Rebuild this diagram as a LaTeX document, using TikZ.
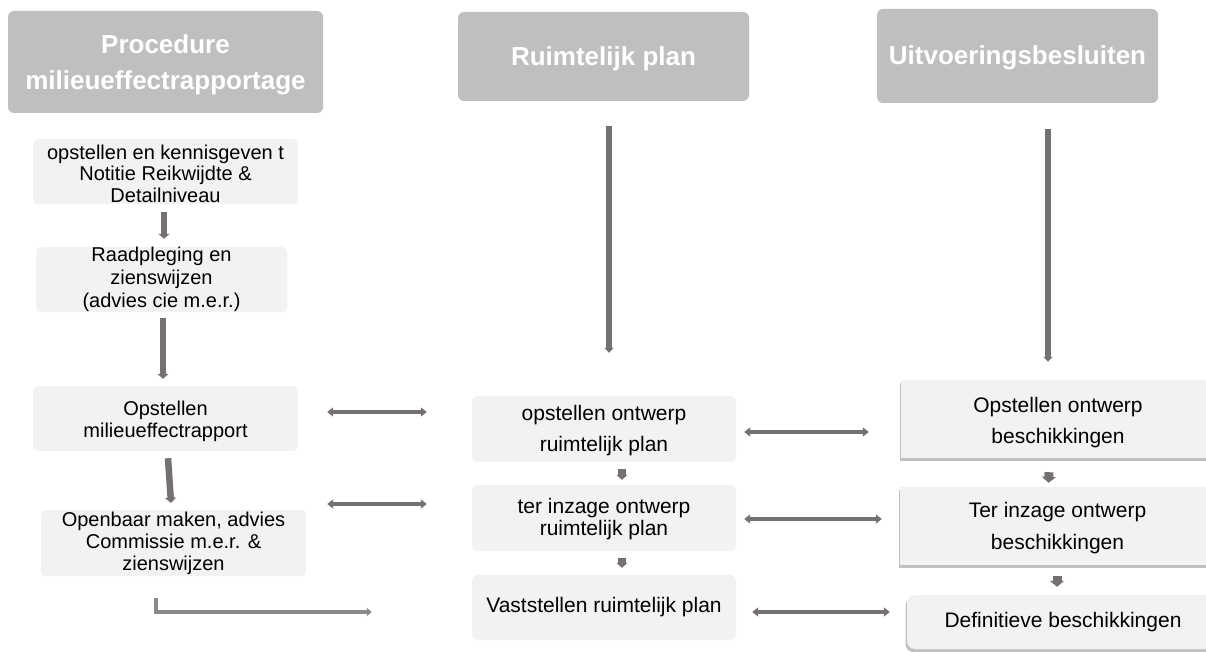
\documentclass[tikz,border=0pt]{standalone}
\usepackage{fontspec}
\setmainfont{Liberation Sans}
\usetikzlibrary{arrows.meta,shadows}
\definecolor{hdrgrey}{HTML}{BFBFBF}
\definecolor{boxgrey}{HTML}{F2F2F2}
\definecolor{arrgrey}{HTML}{767171}
\definecolor{elbgrey}{HTML}{8A8A8A}
\newcommand{\myraise}[1]{\rule{0pt}{#1}}
\tikzset{
  header/.style={fill=hdrgrey, rounded corners=6pt, inner sep=0pt, text=white,
    font=\fontsize{26}{36}\selectfont\bfseries, align=center},
  leftbox/.style={fill=boxgrey, rounded corners=5pt, inner sep=0pt, align=center,
    font=\fontsize{20}{21.5}\selectfont},
  midbox/.style={fill=boxgrey, rounded corners=6pt, inner sep=0pt, align=center},
  rightbox/.style={fill=boxgrey, inner sep=0pt, align=center,
    font=\fontsize{21}{31}\selectfont,
    drop shadow={shadow xshift=-1.5pt, shadow yshift=-3pt, fill=black!45, opacity=0.55}},
  longarr/.style={draw=arrgrey, line width=5.5pt, -{Triangle[width=9pt,length=5pt]}},
  thickarr/.style={draw=arrgrey, line width=6.5pt, -{Triangle[width=11pt,length=5pt]}},
  midarr/.style={draw=arrgrey, line width=7.5pt, -{Triangle[width=11pt,length=5pt]}},
  rightarr/.style={draw=arrgrey, line width=9pt, -{Triangle[width=14pt,length=6pt]}},
  dblarr/.style={draw=arrgrey, line width=4.5pt,
    {Triangle[width=9pt,length=6pt]}-{Triangle[width=9pt,length=6pt]}},
  elbarr/.style={draw=elbgrey, line width=4pt, -{Triangle[width=8pt,length=5pt]}}
}
\begin{document}
\begin{tikzpicture}[x=1pt,y=-1pt]
\useasboundingbox (0,0) rectangle (1206,652);
% headers
\node[header, minimum width=315pt, minimum height=102pt] (H1) at (165.5,62) {\myraise{24pt}Procedure\\milieueffectrapportage};
\node[header, minimum width=291pt, minimum height=89pt] (H2) at (603.5,56.5) {\myraise{22.5pt}Ruimtelijk plan};
\node[header, minimum width=281pt, minimum height=94pt] (H3) at (1017.5,56) {\myraise{23pt}Uitvoeringsbesluiten};
% left column
\node[leftbox, minimum width=265pt, minimum height=65pt] (B1) at (165.5,171.5) {\myraise{18.5pt}opstellen en kennisgeven t\\Notitie Reikwijdte \&\\Detailniveau};
\node[leftbox, minimum width=251pt, minimum height=65pt, font=\fontsize{20}{23}\selectfont] (B2) at (161.5,279.5) {Raadpleging en\\zienswijzen\\(advies cie m.e.r.)};
\node[leftbox, minimum width=265pt, minimum height=65pt, font=\fontsize{20}{22}\selectfont] (B3) at (165.5,418.5) {\myraise{19.6pt}Opstellen\\milieueffectrapport};
\node[leftbox, minimum width=265pt, minimum height=66pt, font=\fontsize{20}{22}\selectfont] (B4) at (173.5,543) {Openbaar maken, advies\\Commissie m.e.r. \&\\zienswijzen};
% middle column
\node[midbox, minimum width=264pt, minimum height=66pt, font=\fontsize{21}{31}\selectfont] (M1) at (604,429) {\myraise{17.5pt}opstellen ontwerp\\ruimtelijk plan};
\node[midbox, minimum width=264pt, minimum height=66pt, font=\fontsize{21}{22}\selectfont] (M2) at (604,518) {\myraise{18pt}ter inzage ontwerp\\ruimtelijk plan};
\node[midbox, minimum width=264pt, minimum height=65pt, font=\fontsize{21}{22}\selectfont] (M3) at (604,607.5) {Vaststellen ruimtelijk plan};
% right column
\node[rightbox, minimum width=314pt, minimum height=78pt] (R1) at (1058,419) {\myraise{21.5pt}Opstellen ontwerp\\beschikkingen};
\node[rightbox, minimum width=315pt, minimum height=78pt, font=\fontsize{21}{32}\selectfont] (R2) at (1057.5,526) {\myraise{18.5pt}Ter inzage ontwerp\\beschikkingen};
\node[rightbox, rounded corners=8pt, minimum width=312pt, minimum height=54pt] (R3) at (1063,622) {Definitieve beschikkingen};
% long vertical arrows from headers
\draw[longarr] ([xshift=5.5pt,yshift=-25pt]H2.south) -- ([xshift=5pt,yshift=43pt]M1.north);
\draw[longarr] ([xshift=30.5pt,yshift=-26pt]H3.south) -- ([xshift=-10pt,yshift=18pt]R1.north);
% left column arrows
\draw[thickarr] ([xshift=-1.5pt,yshift=-8pt]B1.south) -- ([xshift=2.5pt,yshift=8pt]B2.north);
\draw[thickarr] ([xshift=1.5pt,yshift=-6pt]B2.south) -- ([xshift=-2.5pt,yshift=7pt]B3.north);
\draw[thickarr] ([xshift=2.5pt,yshift=-7pt]B3.south) -- ([xshift=-2.5pt,yshift=7pt]B4.north);
% middle column small arrows
\draw[midarr] ([xshift=18pt,yshift=-7pt]M1.south) -- ([xshift=18pt,yshift=5pt]M2.north);
\draw[midarr] ([xshift=18pt,yshift=-7pt]M2.south) -- ([xshift=18pt,yshift=7pt]M3.north);
% right column small arrows
\draw[rightarr] ([xshift=-9pt,yshift=-14pt]R1.south) -- ([xshift=-9pt,yshift=4pt]R2.north);
\draw[rightarr] ([xshift=-0.5pt,yshift=-11pt]R2.south) -- ([xshift=-6pt,yshift=8pt]R3.north);
% horizontal double arrows
\draw[dblarr] ([xshift=29pt,yshift=6.5pt]B3.east) -- ([xshift=-45pt,yshift=17pt]M1.west);
\draw[dblarr] ([xshift=21pt,yshift=39pt]B4.east) -- ([xshift=-45pt,yshift=14pt]M2.west);
\draw[dblarr] ([xshift=8pt,yshift=-3pt]M1.east) -- ([xshift=-32pt,yshift=-13pt]R1.west);
\draw[dblarr] ([xshift=8pt,yshift=-1pt]M2.east) -- ([xshift=-18pt,yshift=7pt]R2.west);
\draw[dblarr] ([xshift=16pt,yshift=-4.5pt]M3.east) -- ([xshift=-17pt,yshift=10pt]R3.west);
% elbow arrow
\draw[elbarr] ([xshift=-17.5pt,yshift=-22pt]B4.south) |- ([xshift=-100pt,yshift=-4.5pt]M3.west);
\end{tikzpicture}
\end{document}
